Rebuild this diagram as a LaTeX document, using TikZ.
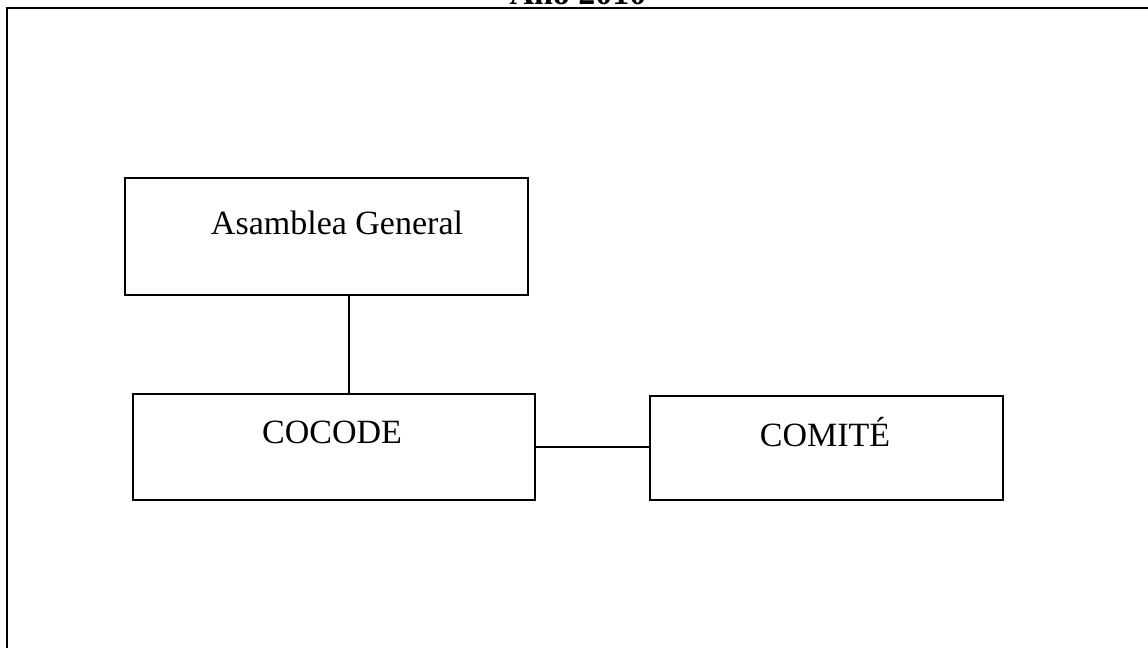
\documentclass[tikz,border=0pt]{standalone}
\usepackage{fontspec}
\setmainfont{Liberation Serif}
\usetikzlibrary{calc}

\begin{document}
\begin{tikzpicture}[x=0.5pt,y=0.5pt,yscale=-1,xscale=1,
  orgbox/.style={draw,line width=1.2pt,inner sep=0pt},
  orgtext/.style={inner sep=0.75pt,font=\fontsize{17}{20}\selectfont}]
\useasboundingbox (0,0) rectangle (1148,648);

%Frame
\draw [line width=1pt]    (7,8) rectangle (1175,675) ;

% Title Node
\draw (578,4) node [anchor=base][inner sep=0pt,font=\fontsize{17}{20}\selectfont\bfseries] (title) {Año 2010};

%Boxes
\draw (326.5,236.5) node [orgbox,minimum width=201.5pt,minimum height=58.5pt] (asamblea) {};
\draw (334,447) node [orgbox,minimum width=201pt,minimum height=53pt] (cocode) {};
\draw (826.5,448) node [orgbox,minimum width=176.5pt,minimum height=52pt] (comite) {};

% Text Node
\draw (337,223) node [orgtext] (asamblealbl) {Asamblea General};
% Text Node
\draw (332,432) node [orgtext] (cocodelbl) {COCODE};
% Text Node
\draw (825,432) node [orgtext] (comitelbl) {COMITÉ};

%Connectors
\coordinate (link) at (349,0);
\draw [line width=1.2pt]    (asamblea.south -| link) -- (cocode.north -| link) ;
\draw [line width=1.2pt]    (cocode.east) -- (cocode.east -| comite.west) ;
\end{tikzpicture}
\end{document}
